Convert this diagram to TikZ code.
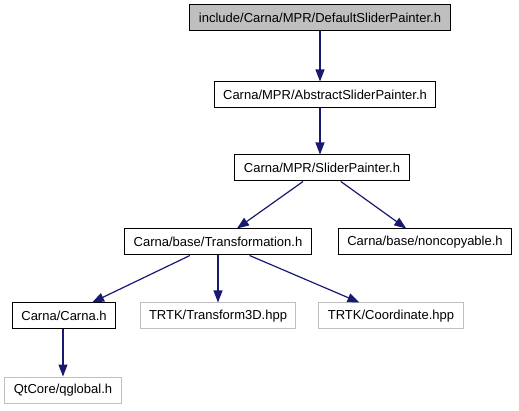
\documentclass[tikz,border=0pt]{standalone}
\usepackage{fontspec}
\setmainfont{Liberation Sans}
\usepackage{tikz}
\usetikzlibrary{arrows.meta}

\definecolor{edgeblue}{HTML}{191970}
\definecolor{boxgray}{HTML}{BFBFBF}

\begin{document}
\begin{tikzpicture}[x=1pt, y=-1pt,
    file/.style={draw=black, fill=white, line width=1pt, minimum height=26pt,
      inner xsep=9pt, inner ysep=0pt, font=\fontsize{13}{15}\selectfont},
    top/.style={file, fill=boxgray},
    ext/.style={file, draw=boxgray},
    edge/.style={edgeblue, line width=1.2pt,
      -{Triangle[length=12pt, width=9pt]}}
    ]

    \useasboundingbox (0, 0) rectangle (519, 411);

    \node[top] (default) at (320, 18) {include/Carna/MPR/DefaultSliderPainter.h};
    \node[file] (abstract) at (325, 95) {Carna/MPR/AbstractSliderPainter.h};
    \node[file] (slider) at (322, 168) {Carna/MPR/SliderPainter.h};

    \node[file] (transf) at (218, 242) {Carna/base/Transformation.h};
    \node[file] (noncopy) at (425, 242) {Carna/base/noncopyable.h};

    \node[file] (carna) at (64, 316) {Carna/Carna.h};
    \node[ext] (trans3d) at (218, 316) {TRTK/Transform3D.hpp};
    \node[ext] (coord) at (391, 316) {TRTK/Coordinate.hpp};

    \node[ext] (qglobal) at (63, 390) {QtCore/qglobal.h};

    \draw[edge] (default.south) -- (default.south |- abstract.north);
    \draw[edge] (abstract.south -| default) -- (default |- slider.north);
    \draw[edge] (slider) -- (transf);
    \draw[edge] (slider) -- (noncopy);
    \draw[edge] (transf) -- (carna);
    \draw[edge] (transf.south) -- (trans3d.north);
    \draw[edge] (transf) -- (coord);
    \draw[edge] (carna.south -| qglobal) -- (qglobal.north);

\end{tikzpicture}
\end{document}
